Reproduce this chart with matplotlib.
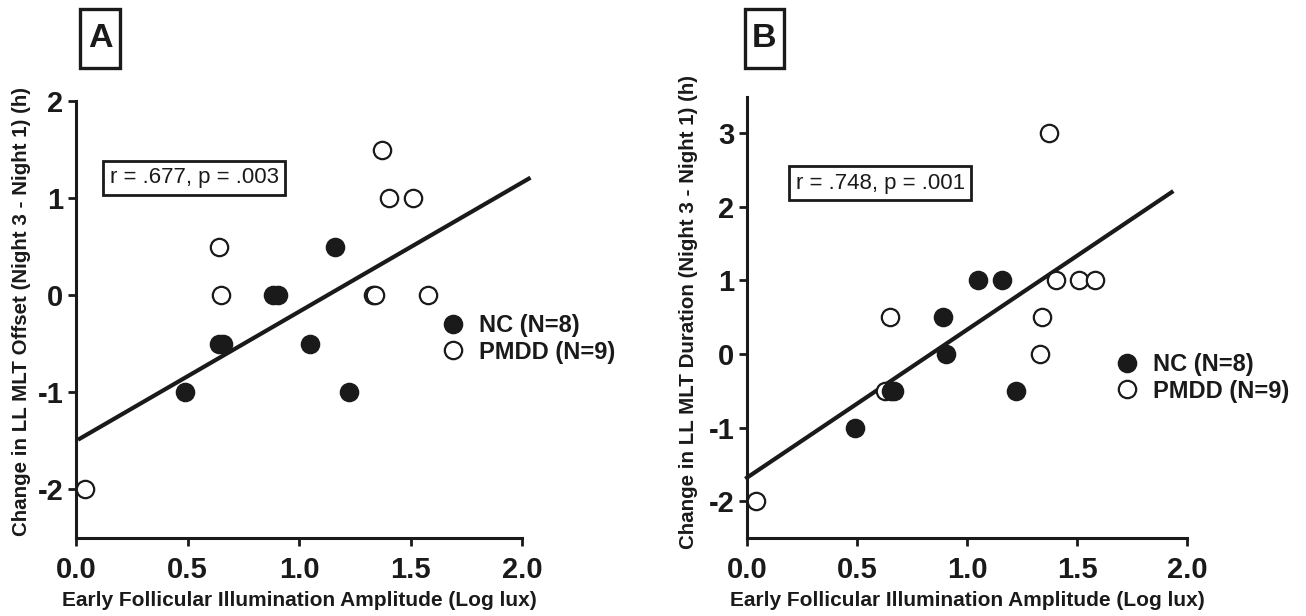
import numpy as np
import matplotlib.pyplot as plt
from matplotlib.lines import Line2D
from matplotlib.patches import Rectangle

plt.rcParams['font.family'] = ['Liberation Sans', 'DejaVu Sans']
plt.rcParams['axes.unicode_minus'] = False

# panel A: change in offset
nc_x_a = [0.49, 0.64, 0.66, 0.885, 0.905, 1.05, 1.163, 1.223]
nc_y_a = [-1, -0.5, -0.5, 0, 0, -0.5, 0.5, -1]
pm_x_a = [0.04, 0.64, 0.65, 1.33, 1.342, 1.374, 1.402, 1.511, 1.58]
pm_y_a = [-2, 0.5, 0, 0, 0, 1.5, 1, 1, 0]
fit_a = (1.33, -1.50)        # slope, intercept
fit_range_a = (0.017, 2.03)

# panel B: change in duration
nc_x_b = [0.49, 0.655, 0.67, 0.893, 0.903, 1.051, 1.16, 1.223]
nc_y_b = [-1, -0.5, -0.5, 0.5, 0, 1, 1, -0.5]
pm_x_b = [0.04, 0.625, 0.65, 1.331, 1.341, 1.374, 1.404, 1.509, 1.583]
pm_y_b = [-2, -0.5, 0.5, 0, 0.5, 3, 1, 1, 1]
fit_b = (2.01, -1.68)
fit_range_b = (0.0, 1.93)

W, H = 1306, 616
fig = plt.figure(figsize=(W / 100, H / 100), dpi=100)


def px_axes(l, t, r, b):
    return fig.add_axes([l / W, 1 - b / H, (r - l) / W, (b - t) / H])


def panel(ax, ncx, ncy, pmx, pmy, fit, frange, ylim, yticks, stat, stat_xy,
          ylabel, ylab_x, letter, box, leg_xy):
    xs = np.array(frange)
    ax.plot(xs, fit[0] * xs + fit[1], color='#1a1a1a', lw=3.0, clip_on=False, zorder=2)
    ax.plot(pmx, pmy, 'o', ms=12.5, mfc='white', mec='#1a1a1a', mew=1.6,
            clip_on=False, zorder=3, label='PMDD (N=9)')
    ax.plot(ncx, ncy, 'o', ms=12.5, mfc='#1a1a1a', mec='#1a1a1a', mew=1.6,
            clip_on=False, zorder=4, label='NC (N=8)')
    ax.set_xlim(0, 2)
    ax.set_ylim(*ylim)
    ax.set_xticks([0, 0.5, 1.0, 1.5, 2.0])
    ax.set_xticklabels(['0.0', '0.5', '1.0', '1.5', '2.0'])
    ax.set_yticks(yticks)
    for s in ['top', 'right']:
        ax.spines[s].set_visible(False)
    for s in ['left', 'bottom']:
        ax.spines[s].set_linewidth(2.2)
        ax.spines[s].set_color('#1a1a1a')
    ax.tick_params(width=2, length=6, color='#1a1a1a', labelsize=21, pad=3)
    ax.tick_params(axis='x', pad=7)
    for lab in ax.get_xticklabels() + ax.get_yticklabels():
        lab.set_fontweight('bold')
        lab.set_color('#1a1a1a')
    ax.text(stat_xy[0], stat_xy[1], stat, fontsize=16, ha='center', va='center',
            color='#1a1a1a',
            bbox=dict(boxstyle='square,pad=0.3', fc='white', ec='#1a1a1a', lw=2))
    bb = ax.get_position()
    fig.text(bb.x0 + bb.width / 2, 1 - 601 / H,
             'Early Follicular Illumination Amplitude (Log lux)',
             ha='center', va='center', fontsize=15, fontweight='bold', color='#1a1a1a')
    fig.text(ylab_x / W, 1 - 312 / H, ylabel, rotation=90, ha='center', va='center',
             fontsize=14.8, fontweight='bold', color='#1a1a1a')
    l, t, r, b = box
    fig.patches.append(Rectangle((l / W, 1 - b / H), (r - l) / W, (b - t) / H,
                                 transform=fig.transFigure, fill=False,
                                 ec='#1a1a1a', lw=2.4))
    fig.text((l + r) / 2 / W, 1 - (t + b) / 2 / H, letter, ha='center', va='center',
             fontsize=24.5, fontweight='bold', color='#1a1a1a')
    handles = [
        Line2D([], [], ls='none', marker='o', ms=12.5, mfc='#1a1a1a', mec='#1a1a1a', mew=1.6),
        Line2D([], [], ls='none', marker='o', ms=12.5, mfc='white', mec='#1a1a1a', mew=1.6),
    ]
    ax.legend(handles, ['NC (N=8)', 'PMDD (N=9)'], loc='upper left',
              bbox_to_anchor=(leg_xy[0] / W, 1 - leg_xy[1] / H),
              bbox_transform=fig.transFigure, frameon=False,
              prop={'size': 17, 'weight': 'bold'}, handlelength=0.8,
              handletextpad=0.7, labelspacing=0.15, borderpad=0,
              borderaxespad=0, labelcolor='#1a1a1a')


ax_a = px_axes(76, 101, 522, 538)
panel(ax_a, nc_x_a, nc_y_a, pm_x_a, pm_y_a, fit_a, fit_range_a, (-2.5, 2),
      [-2, -1, 0, 1, 2], 'r = .677, p = .003', (0.53, 1.21),
      'Change in LL MLT Offset (Night 3 - Night 1) (h)', 22,
      'A', (80, 9, 120, 68), (443.6, 314))

ax_b = px_axes(747, 96.5, 1187, 538)
panel(ax_b, nc_x_b, nc_y_b, pm_x_b, pm_y_b, fit_b, fit_range_b, (-2.5, 3.5),
      [-2, -1, 0, 1, 2, 3], 'r = .748, p = .001', (0.605, 2.32),
      'Change in LL MLT Duration (Night 3 - Night 1) (h)', 688,
      'B', (745, 9, 784, 68), (1117.6, 353))

fig.savefig('out.png', dpi=100)
